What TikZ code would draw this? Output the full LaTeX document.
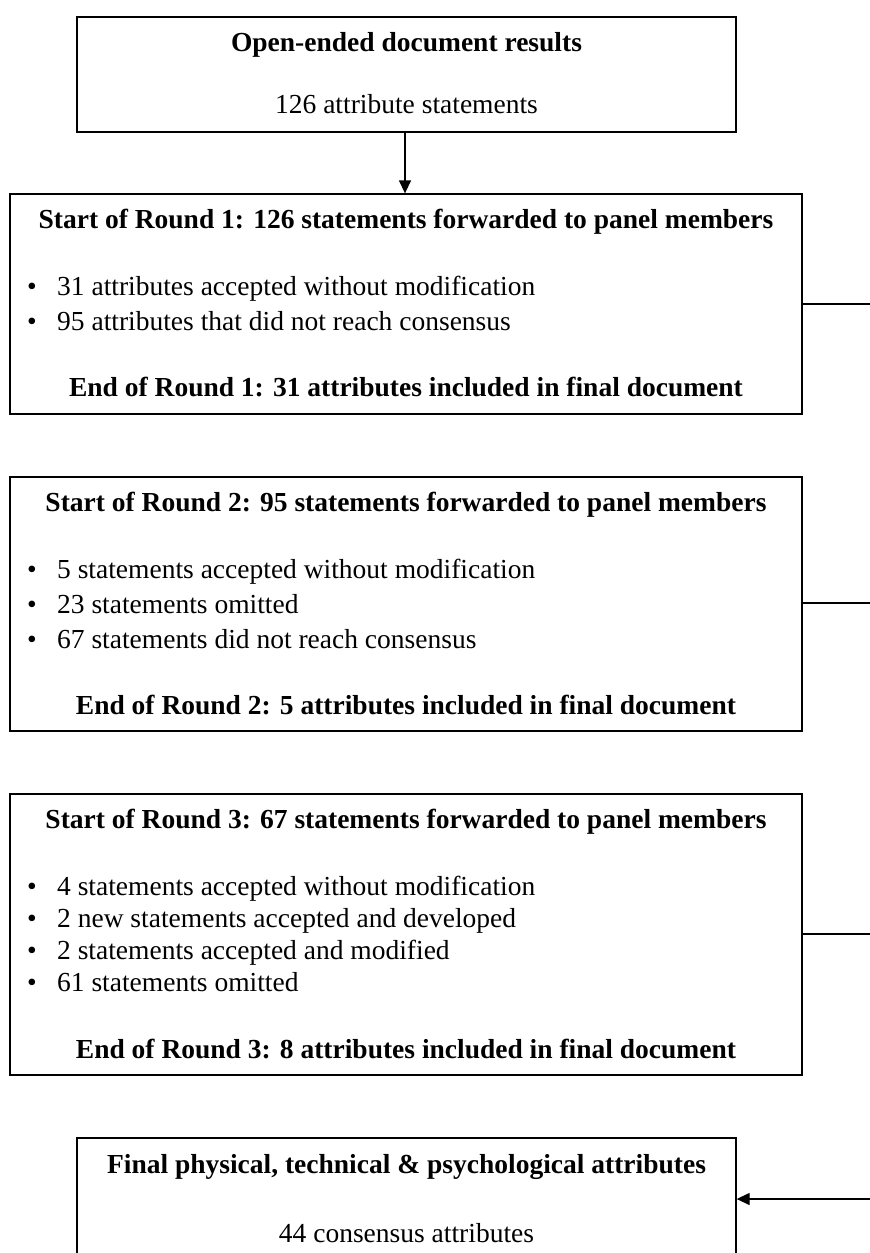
\documentclass[tikz,border=0pt]{standalone}
\usepackage{fontspec}
\setmainfont{Liberation Serif}
\usetikzlibrary{arrows.meta}
\tikzset{
  boxst/.style={draw=black, line width=1.3pt, fill=none, inner sep=0pt},
  txt/.style={font=\fontsize{27.5}{33}\selectfont, inner sep=0pt, anchor=base},
  ttl/.style={txt, font=\fontsize{27.5}{33}\selectfont\bfseries},
  bul/.style={txt, anchor=base west},
  link/.style={line width=1.3pt},
  arr/.style={line width=1.3pt, -{Triangle[length=13pt,width=12pt]}}
}
\newcommand{\bitem}[1]{\makebox[30pt][l]{\textbullet}#1}
\begin{document}
\begin{tikzpicture}[x=1pt,y=-1pt]
\useasboundingbox (0,0) rectangle (870,1253);
\clip (0,0) rectangle (870,1253);
% Box 1
\node[boxst, minimum width=659pt, minimum height=115pt] (b1) at (406.5,74.5) {};
\node[ttl] (b1t) at (406.5,51) {Open-ended document results};
\node[txt] (b1s) at (406.5,113) {126 attribute statements};
% Box 2
\node[boxst, minimum width=792pt, minimum height=220pt] (b2) at (406,304) {};
\node[ttl] (b2t) at (406,228) {Start of Round 1: 126 statements forwarded to panel members};
\node[bul] (b2a) at (27,295) {\bitem{31 attributes accepted without modification}};
\node[bul] (b2b) at (27,330) {\bitem{95 attributes that did not reach consensus}};
\node[ttl] (b2e) at (406,396) {End of Round 1: 31 attributes included in final document};
% Box 3
\node[boxst, minimum width=792pt, minimum height=254pt] (b3) at (406,604) {};
\node[ttl] (b3t) at (406,511) {Start of Round 2: 95 statements forwarded to panel members};
\node[bul] (b3a) at (27,578) {\bitem{5 statements accepted without modification}};
\node[bul] (b3b) at (27,613) {\bitem{23 statements omitted}};
\node[bul] (b3c) at (27,648) {\bitem{67 statements did not reach consensus}};
\node[ttl] (b3e) at (406,714) {End of Round 2: 5 attributes included in final document};
% Box 4
\node[boxst, minimum width=792pt, minimum height=281pt] (b4) at (406,934.5) {};
\node[ttl] (b4t) at (406,828) {Start of Round 3: 67 statements forwarded to panel members};
\node[bul] (b4a) at (27,895) {\bitem{4 statements accepted without modification}};
\node[bul] (b4b) at (27,927) {\bitem{2 new statements accepted and developed}};
\node[bul] (b4c) at (27,959) {\bitem{2 statements accepted and modified}};
\node[bul] (b4d) at (27,991) {\bitem{61 statements omitted}};
\node[ttl] (b4e) at (406,1058) {End of Round 3: 8 attributes included in final document};
% Final box
\node[boxst, minimum width=659pt, minimum height=124pt] (b5) at (406.5,1200) {};
\node[ttl] (b5t) at (406.5,1173) {Final physical, technical \& psychological attributes};
\node[txt] (b5s) at (406.5,1242) {44 consensus attributes};
% connectors
\coordinate (e2) at (872,304);
\coordinate (e3) at (872,603);
\coordinate (e4) at (872,934);
\coordinate (e5) at (872,1199);
\draw[arr] (b1.south -| 405,0) -- (b2.north -| 405,0);
\draw[link] (b2.east |- e2) -- (e2);
\draw[link] (b3.east |- e3) -- (e3);
\draw[link] (b4.east |- e4) -- (e4);
\draw[arr] (e5) -- (b5.east |- e5);
\end{tikzpicture}
\end{document}
